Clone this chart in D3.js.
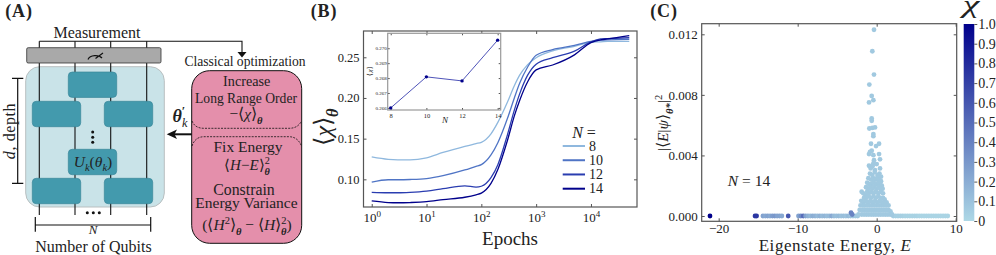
<!DOCTYPE html>
<html>
<head>
<meta charset="utf-8">
<script src="https://cdn.jsdelivr.net/npm/d3@7"></script>
<style>
	html, body { margin: 0; padding: 0; background: #fff; overflow: hidden; }
	svg { display: block; }
	text { font-family: "Liberation Serif", serif; fill: #222; }
</style>
</head>
<body>
<script>
// CONVERGENCE CURVES (panel B)
const epochs = [1, 2, 3, 5, 10, 20, 50, 80, 100, 150, 200, 300, 400, 500, 700, 1000, 2000, 5000, 10000, 15000, 20000, 50000];
const chiN8 = [.1275, .1245, .124, .124, .1265, .133, .1405, .144, .1455, .156, .170, .195, .215, .228, .241, .2495, .258, .2635, .2685, .269, .2695, .2695];
const chiN10 = [.0965, .0995, .0995, .0998, .101, .1045, .1115, .116, .118, .130, .145, .175, .200, .218, .238, .2525, .2595, .2645, .2695, .271, .2715, .272];
const chiN12 = [.084, .0835, .0835, .084, .0855, .0885, .092, .0905, .0915, .102, .118, .155, .185, .205, .228, .2415, .2495, .2575, .269, .2725, .273, .274];
const chiN14 = [.0735, .0715, .0712, .0715, .0725, .075, .078, .081, .083, .095, .112, .148, .178, .197, .220, .2345, .2405, .253, .268, .2715, .2725, .2765];
const seriesLabels = [8, 10, 12, 14];
const seriesColors = ["#8fb8de", "#4f74c5", "#2a3db0", "#00008b"];
const seriesValues = [chiN8, chiN10, chiN12, chiN14];

// INSET (panel B)
const insetN = [8, 10, 12, 14];
const insetChi = [.26600, .26808, .26781, .27054];
const insetYTicks = [.266, .267, .268, .269, .270];

// EIGENSTATE WEIGHTS (panel C): [energy, chi] along the zero line
const baseRow = [
	[-21.1, 1], [-15.4, .75], [-15.2, .75], [-14.4, .25], [-14.1, .22], [-13.8, .25], [-13.5, .22], [-13.2, .28], [-12.9, .3], [-12.6, .25], [-12.3, .25], [-12, .22],
	[-11.2, .6], [-9.9, .25], [-9.6, .35], [-9.3, .5], [-9, .25], [-8.7, .18], [-8.4, .15], [-8.1, .2], [-7.8, .18], [-7.5, .14], [-7.2, .18], [-6.9, .14], [-6.6, .16], [-6.3, .13], [-6, .14],
	[-5.7, .22], [-5.4, .14], [-5.1, .12], [-4.8, .14], [-4.5, .11], [-4.2, .12], [-3.9, .1], [-3.6, .14], [-3.3, .1], [-3, .09], [-2.7, .08], [-2.4, .08],
	[2.1, .05], [2.4, .04], [2.7, .04], [3, .04], [3.3, .04], [3.6, .03], [3.9, .03], [4.2, .03], [4.5, .03], [4.8, .03], [5.1, .03], [5.4, .02],
	[5.7, .02], [6, .02], [6.3, .02], [6.6, .02], [6.9, .02], [7.2, .02], [7.5, .02], [7.8, .02], [8.1, .02], [8.4, .02], [8.7, .02], [9, .02]
];
// [energy, weight] for the peak around zero energy
const peakPoints = [
	[-.34, .0123], [-.55, .01088], [-.34, .00934], [-.93, .00868], [-.63, .00793], [-.42, .00765], [-.97, .0075], [-.63, .00644], [-.63, .00629],
	[-.93, .00578], [-.55, .00582], [-.21, .00585], [-.42, .00541], [-.42, .00527], [-.72, .00477], [.3, .00477], [-.08, .00462],
	[-.84, .00424], [-.63, .00431], [-.97, .00409], [.3, .00409], [-.42, .00402], [-.34, .00369], [.42, .00374], [-.42, .00347],
	[-.97, .00332], [-.5, .0033], [0, .00343], [-.76, .00314], [.42, .00314], [-.21, .00303],
	[-.85, .0028], [-.55, .0027], [-.25, .0029], [.1, .0027], [.35, .0028], [.55, .0026],
	[-1.05, .0025], [-.7, .0024], [-.45, .0025], [-.2, .0024], [.05, .0025], [.3, .0024], [.55, .0023],
	[-1.2, .0022], [-.95, .0021], [-.7, .0021], [-.4, .0022], [-.1, .0021], [.2, .0022], [.45, .0021], [.65, .002],
	[-1.35, .0019], [-1.1, .0018], [-.8, .0019], [-.55, .0018], [-.3, .0019], [0, .0018], [.25, .0019], [.5, .0018], [.75, .0018],
	[-1.9, .0016], [-1.7, .0015], [-1.45, .0014], [-1.2, .0016], [-1, .0015], [-.7, .0016], [-.4, .0015], [-.1, .0016], [.2, .0015], [.5, .0016], [.8, .0015],
	[-1.6, .0012], [-1.3, .0012], [-1, .0013], [-.7, .0012], [-.4, .0013], [-.1, .0012], [.2, .0013], [.5, .0012], [.8, .0012], [1, .0011],
	[-1.95, .001], [-1.7, .0009], [-1.4, .0010], [-1.1, .0009], [-.8, .001], [-.5, .0009], [-.2, .001], [.1, .0009], [.4, .001], [.7, .0009], [1, .0009], [1.25, .0009],
	[-2.05, .0007], [-1.75, .0007], [-1.5, .0007], [-1.2, .0007], [-.9, .0007], [-.6, .0007], [-.3, .0007], [0, .0007], [.3, .0007], [.6, .0007], [.9, .0007], [1.2, .0007], [1.5, .0007],
	[-2.15, .0004], [-1.8, .0004], [-1.5, .0004], [-1.2, .0004], [-.9, .0004], [-.6, .0004], [-.3, .0004], [0, .0004], [.3, .0004], [.6, .0004], [.9, .0004], [1.2, .0004], [1.5, .0004], [1.75, .0003],
	[-2.3, .0001], [-1.9, .0001], [-1.6, .0001], [-1.3, .0001], [-1, .0001], [-.7, .0001], [-.4, .0001], [-.1, .0001], [.2, .0001], [.5, .0001], [.8, .0001], [1.1, .0001], [1.4, .0001], [1.7, .0001], [1.95, .0001]
];
const peakChi = .07;
const bumpPoints = [[-3.25, .00022], [-3.1, .0001]];
const bumpChi = .4;

const cTicksX = [-20, -10, 0, 10];
const cTicksY = [0, .004, .008, .012];
const colorbarTicks = [0, .1, .2, .3, .4, .5, .6, .7, .8, .9, 1];


// SVG DIMENSIONS
const width = 996;
const height = 255;
const svg = d3.select("body").append("svg")
	.attr("width", width)
	.attr("height", height)
	.attr("viewBox", `0 0 ${width} ${height}`);

const frameColor = "#555";


/** MATH TEXT
 * parts: list of [string, style, dx]; style may hold i (italic), b (bold),
 * sub or sup. dx (in em of the base size) stacks a sup over a sub.
 */
function mathText(parent, x, y, parts, size, rotate) {
	const t = parent.append("text")
		.attr("text-anchor", "middle")
		.attr("font-size", size);
	if (rotate) t.attr("transform", `translate(${x},${y}) rotate(-90)`);
	else t.attr("x", x).attr("y", y);
	let shift = 0;
	parts.forEach(([str, style = "", dx = 0]) => {
		const want = style.includes("sub") ? size * .3 : style.includes("sup") ? -size * .38 : 0;
		const small = style.includes("sub") || style.includes("sup");
		t.append("tspan")
			.attr("dy", want - shift)
			.attr("dx", dx * size)
			.attr("font-size", small ? size * .68 : size)
			.attr("font-style", /\bi\b/.test(style) ? "italic" : "normal")
			.attr("font-weight", /\bb\b/.test(style) ? "bold" : "normal")
			.text(str);
		shift = want;
	});
	return t;
}

function styleAxis(g, fontSize) {
	g.select(".domain").remove();
	g.selectAll(".tick line").attr("stroke", frameColor).attr("stroke-width", 1);
	g.selectAll(".tick text").attr("font-family", "Liberation Serif").attr("font-size", fontSize).attr("fill", "#222");
}

function frame(g, x0, y0, x1, y1, color, w) {
	g.append("rect")
		.attr("x", x0).attr("y", y0)
		.attr("width", x1 - x0).attr("height", y1 - y0)
		.attr("fill", "none").attr("stroke", color).attr("stroke-width", w);
}


// PANEL A: circuit diagram
const panelA = svg.append("g");
mathText(panelA, 19, 16.5, [["(A)", "b"]], 18).attr("letter-spacing", .8);
mathText(panelA, 97, 38, [["Measurement"]], 16);

const wireX = [39.3, 75, 110.7, 146.7];
panelA.append("path")
	.attr("d", "M39.3,41.3H242V53")
	.attr("fill", "none").attr("stroke", "#111").attr("stroke-width", 1.1);
panelA.append("path").attr("d", "M237.5,52H246.5L242,57.5Z").attr("fill", "#111");

panelA.append("rect")
	.attr("x", 25.7).attr("y", 66.7).attr("width", 138.6).attr("height", 140.3).attr("rx", 14)
	.attr("fill", "#c9e3e8").attr("stroke", "#b9bfc0").attr("stroke-width", 1);
panelA.selectAll("line.wire").data(wireX).enter().append("line")
	.attr("x1", d => d).attr("x2", d => d)
	.attr("y1", 41.3).attr("y2", 215)
	.attr("stroke", "#111").attr("stroke-width", 1.1);
panelA.append("rect")
	.attr("x", 26.7).attr("y", 47.7).attr("width", 134.3).attr("height", 15.3).attr("rx", 1.5)
	.attr("fill", "#a9a9a9").attr("stroke", "#333").attr("stroke-width", .8);
// meter
panelA.append("path")
	.attr("d", "M88,59.5C90,54.5 99,54.5 102,58M95.5,58.5L103,53")
	.attr("fill", "none").attr("stroke", "#111").attr("stroke-width", 1.2);

const gates = [[68.3, 72], [32.3, 101.3], [104.3, 101.3], [68.3, 149.3], [32.3, 178.3], [104.3, 178.3]];
panelA.selectAll("rect.gate").data(gates).enter().append("rect")
	.attr("x", d => d[0]).attr("y", d => d[1])
	.attr("width", 48.4).attr("height", 25.4).attr("rx", 4)
	.attr("fill", "#439aad").attr("stroke", "#3a8799").attr("stroke-width", .7);
mathText(panelA, 93, 166.5, [["U", "i"], ["k", "i sub"], ["("], ["θ", "i"], ["k", "i sub"], [")"]], 15.5);
[[92.7, 132], [92.7, 137.3], [92.7, 142.3], [87.3, 212.7], [93.3, 212.7], [99.3, 212.7]].forEach(d => {
	panelA.append("circle").attr("cx", d[0]).attr("cy", d[1]).attr("r", 1.5).attr("fill", "#111");
});

// brackets
panelA.append("path")
	.attr("d", "M12,78.3H23.3M17.7,78.3V183.3M12,183.3H23.3M35.3,217V231.7M35.3,225H150.7M150.7,217V231.7")
	.attr("fill", "none").attr("stroke", "#111").attr("stroke-width", 1.2);
mathText(panelA, 14.5, 131, [["d", "i"], [", depth"]], 16, true).attr("letter-spacing", .6);
mathText(panelA, 93, 234.4, [["N", "i"]], 13);
mathText(panelA, 93.5, 251.5, [["Number of Qubits"]], 16);

// optimization box
mathText(panelA, 245, 66, [["Classical optimization"]], 13.6);
panelA.append("rect")
	.attr("x", 191.7).attr("y", 70.7).attr("width", 110).attr("height", 172.6).attr("rx", 18)
	.attr("fill", "#e48fab").attr("stroke", "#111").attr("stroke-width", 1);
panelA.append("path")
	.attr("d", "M192,121C194,126 198,128.3 204,128.3H289C295,128.3 299,126 301.5,121M192,146C194,140 198,136.7 204,136.7H289C295,136.7 299,140 301.5,146")
	.attr("fill", "none").attr("stroke", "#111").attr("stroke-width", .8).attr("stroke-dasharray", "2 1.2");
mathText(panelA, 246.7, 86, [["Increase"]], 14.2);
mathText(panelA, 246, 102.5, [["Long Range Order"]], 13.6);
mathText(panelA, 246, 119, [["−⟨"], ["χ", "i"], ["⟩"], ["θ", "b i sub"]], 15.5);
mathText(panelA, 248, 152, [["Fix Energy"]], 15.5);
mathText(panelA, 247, 170, [["⟨"], ["H", "i"], ["−"], ["E", "i"], ["⟩"], ["θ", "b i sub"], ["2", "sup", -.34]], 15);
mathText(panelA, 244, 195, [["Constrain"]], 15.8);
mathText(panelA, 246.5, 208, [["Energy Variance"]], 15.5);
mathText(panelA, 247, 230, [["(⟨"], ["H", "i"], ["2", "sup"], ["⟩"], ["θ", "b i sub"], [" − ⟨"], ["H", "i"], ["⟩"], ["θ", "b i sub"], ["2", "sup", -.34], [")"]], 15.5);

// theta arrow
mathText(panelA, 180, 121.5, [["θ", "b i"], ["′", "b sup"], ["k", "i sub", -.18]], 18);
panelA.append("path").attr("d", "M191.7,134.3H172").attr("stroke", "#111").attr("stroke-width", 2);
panelA.append("path").attr("d", "M166.7,134.3L177,129.5L174.5,134.3L177,139Z").attr("fill", "#111");


// PANEL B: chi against epochs
const panelB = svg.append("g");
mathText(panelB, 324, 16.5, [["(B)", "b"]], 18).attr("letter-spacing", .8);

const bx0 = 363.5, bx1 = 637, by0 = 31, by1 = 207;
const xB = d3.scaleLog().domain([10 ** -.15, 10 ** 4.84]).range([bx0, bx1]);
const yB = d3.scaleLinear().domain([.066, .2823]).range([by1, by0]);
const bTicksX = [1, 10, 100, 1000, 10000];
const bTicksY = [.10, .15, .20, .25];

const axisBottomB = panelB.append("g").attr("transform", `translate(0,${by1})`)
	.call(d3.axisBottom(xB).tickValues(bTicksX).tickSize(-3).tickPadding(6).tickFormat(() => ""));
styleAxis(axisBottomB, 13);
axisBottomB.selectAll(".tick text").each(function (d) {
	const t = d3.select(this);
	t.append("tspan").text("10");
	t.append("tspan").attr("dy", -5).attr("font-size", 9).text(Math.round(Math.log10(d)));
});
styleAxis(panelB.append("g").attr("transform", `translate(0,${by0})`)
	.call(d3.axisTop(xB).tickValues(bTicksX).tickSize(-3).tickFormat(() => "")), 12);
styleAxis(panelB.append("g").attr("transform", `translate(${bx0},0)`)
	.call(d3.axisLeft(yB).tickValues(bTicksY).tickSize(-3).tickPadding(4).tickFormat(d3.format(".2f"))), 12.5);
styleAxis(panelB.append("g").attr("transform", `translate(${bx1},0)`)
	.call(d3.axisRight(yB).tickValues(bTicksY).tickSize(-3).tickFormat(() => "")), 12);
frame(panelB, bx0, by0, bx1, by1, frameColor, 1.2);

const lineB = d3.line()
	.x((d, i) => xB(epochs[i]))
	.y(d => yB(d))
	.curve(d3.curveMonotoneX);
panelB.selectAll("path.curve").data(seriesValues).enter().append("path")
	.attr("class", "curve")
	.attr("d", lineB)
	.attr("fill", "none")
	.attr("stroke", (d, i) => seriesColors[i])
	.attr("stroke-width", 1.3);

// legend
mathText(panelB, 584, 138, [["N", "i"], [" ="]], 16);
const legendY = d3.scalePoint().domain(seriesLabels).range([146, 188.7]);
seriesLabels.forEach((n, i) => {
	panelB.append("line")
		.attr("x1", 562.7).attr("x2", 585)
		.attr("y1", legendY(n)).attr("y2", legendY(n))
		.attr("stroke", seriesColors[i]).attr("stroke-width", 2);
	panelB.append("text")
		.attr("x", 589).attr("y", legendY(n) + 4.5)
		.attr("font-size", 14)
		.text(n);
});

// inset
const ix0 = 387.7, ix1 = 500.7, iy0 = 33.3, iy1 = 110;
const xI = d3.scaleLinear().domain([7.83, 14.17]).range([ix0, ix1]);
const yI = d3.scaleLinear().domain([.26586, .27100]).range([iy1, iy0]);
panelB.append("rect")
	.attr("x", ix0).attr("y", iy0).attr("width", ix1 - ix0).attr("height", iy1 - iy0)
	.attr("fill", "#fff");
styleAxis(panelB.append("g").attr("transform", `translate(0,${iy1})`)
	.call(d3.axisBottom(xI).tickValues(insetN).tickSize(-2).tickPadding(3).tickFormat(d3.format("d"))), 6.5);
styleAxis(panelB.append("g").attr("transform", `translate(0,${iy0})`)
	.call(d3.axisTop(xI).tickValues(insetN).tickSize(-2).tickFormat(() => "")), 6);
styleAxis(panelB.append("g").attr("transform", `translate(${ix0},0)`)
	.call(d3.axisLeft(yI).tickValues(insetYTicks).tickSize(-2).tickPadding(1).tickFormat(d3.format(".3f"))), 5);
styleAxis(panelB.append("g").attr("transform", `translate(${ix1},0)`)
	.call(d3.axisRight(yI).tickValues(insetYTicks).tickSize(-2).tickFormat(() => "")), 6);
frame(panelB, ix0, iy0, ix1, iy1, "#999", 1.2);
panelB.append("path")
	.datum(insetChi)
	.attr("d", d3.line().x((d, i) => xI(insetN[i])).y(d => yI(d)))
	.attr("fill", "none").attr("stroke", "#3a3fb0").attr("stroke-width", .9);
panelB.selectAll("circle.inset").data(insetChi).enter().append("circle")
	.attr("cx", (d, i) => xI(insetN[i]))
	.attr("cy", d => yI(d))
	.attr("r", 1.7)
	.attr("fill", "#00008b");
mathText(panelB, 445, 123, [["N", "i"]], 9);
mathText(panelB, 372, 71, [["⟨"], ["χ", "i"], ["⟩"]], 7, true);

// axis labels
mathText(panelB, 331, 127, [["⟨"], ["χ", "i"], ["⟩"], ["θ", "b i sub"]], 24, true);
mathText(panelB, 510, 245, [["Epochs"]], 19);


// PANEL C: overlap against eigenstate energy
const panelC = svg.append("g");
mathText(panelC, 664, 16.5, [["(C)", "b"]], 18).attr("letter-spacing", .8);

const cx0 = 701.7, cx1 = 956.7, cy0 = 23.7, cy1 = 221.3;
const xC = d3.scaleLinear().domain([-22.15, 10.13]).range([cx0, cx1]);
const yC = d3.scaleLinear().domain([-.00035, .0127]).range([cy1, cy0]);
const chiColor = d3.scaleLinear().domain([0, 1]).range(["#add8e6", "#00008b"]);
const minusFormat = d => String(d).replace("-", "−");

styleAxis(panelC.append("g").attr("transform", `translate(0,${cy1})`)
	.call(d3.axisBottom(xC).tickValues(cTicksX).tickSize(-3).tickPadding(2.5).tickFormat(minusFormat)), 13);
styleAxis(panelC.append("g").attr("transform", `translate(0,${cy0})`)
	.call(d3.axisTop(xC).tickValues(cTicksX).tickSize(-3).tickFormat(() => "")), 12);
styleAxis(panelC.append("g").attr("transform", `translate(${cx0},0)`)
	.call(d3.axisLeft(yC).tickValues(cTicksY).tickSize(-3).tickPadding(4).tickFormat(d3.format(".3f"))), 13);
styleAxis(panelC.append("g").attr("transform", `translate(${cx1},0)`)
	.call(d3.axisRight(yC).tickValues(cTicksY).tickSize(-3).tickFormat(() => "")), 12);

const dotRadius = 2.4;
panelC.append("g").selectAll("circle").data(baseRow).enter().append("circle")
	.attr("cx", d => xC(d[0]))
	.attr("cy", yC(0))
	.attr("r", dotRadius)
	.attr("fill", d => chiColor(d[1]));
panelC.append("g").selectAll("circle").data(bumpPoints).enter().append("circle")
	.attr("cx", d => xC(d[0]))
	.attr("cy", d => yC(d[1]))
	.attr("r", dotRadius)
	.attr("fill", chiColor(bumpChi));
panelC.append("g").selectAll("circle").data(peakPoints).enter().append("circle")
	.attr("cx", d => xC(d[0]))
	.attr("cy", d => yC(d[1]))
	.attr("r", dotRadius)
	.attr("fill", chiColor(peakChi));
frame(panelC, cx0, cy0, cx1, cy1, frameColor, 1.2);

mathText(panelC, 749, 186, [["N", "i"], [" = "], ["14"]], 15.5);
mathText(panelC, 835, 251, [["Eigenstate Energy, "], ["E", "i"]], 17).attr("letter-spacing", .55);
mathText(panelC, 668, 123, [["|⟨"], ["E", "i"], ["|"], ["ψ", "i"], ["⟩"], ["θ*", "b i sub"], ["|"], ["2", "sup"]], 15.5, true);

// colorbar
const barX = 963.7, barW = 10.6;
const yBar = d3.scaleLinear().domain([0, 1]).range([221, 24]);
const grad = svg.append("defs").append("linearGradient")
	.attr("id", "chi-grad")
	.attr("x1", 0).attr("x2", 0).attr("y1", 1).attr("y2", 0);
grad.append("stop").attr("offset", 0).attr("stop-color", chiColor(0));
grad.append("stop").attr("offset", 1).attr("stop-color", chiColor(1));
panelC.append("rect")
	.attr("x", barX).attr("y", 24).attr("width", barW).attr("height", 197)
	.attr("fill", "url(#chi-grad)");
styleAxis(panelC.append("g").attr("transform", `translate(${barX + barW},0)`)
	.call(d3.axisRight(yBar).tickValues(colorbarTicks).tickSize(3).tickPadding(1).tickFormat(d => d === 0 ? "0" : d3.format(".1f")(d))), 14);
mathText(panelC, 0, 0, [["χ", "i"]], 26)
	.attr("transform", "translate(971,13) scale(1.45,1)");
</script>
</body>
</html>
